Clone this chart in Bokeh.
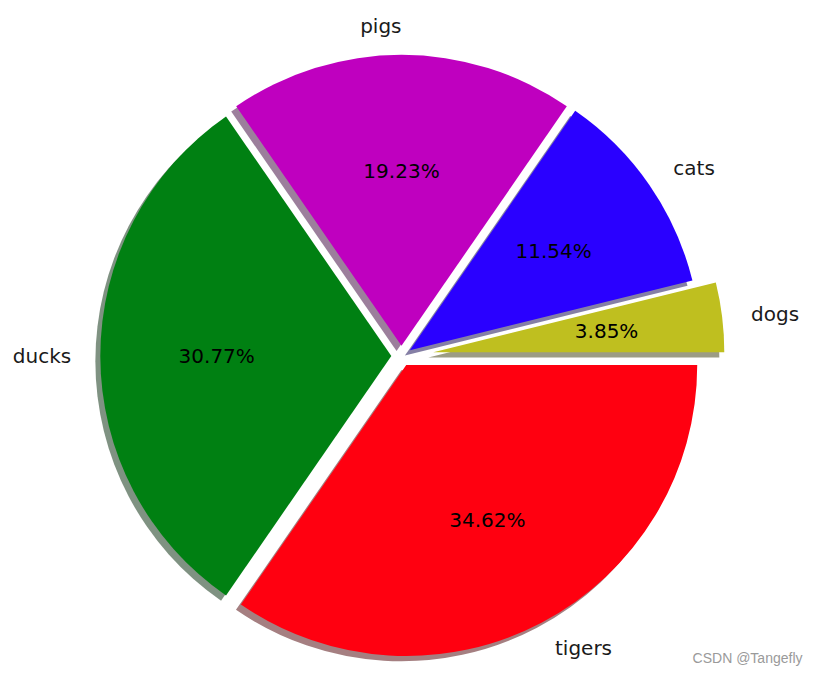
import math
from bokeh.plotting import figure
from bokeh.models import ColumnDataSource, Label, Range1d
from bokeh.core.properties import value
from bokeh.embed import file_html
from bokeh.resources import INLINE

# ---- data ----
labels = ["dogs", "cats", "pigs", "ducks", "tigers"]
values = [1, 3, 5, 8, 9]
explode = [0.11, 0.035, 0.035, 0.035, 0.035]
colors = ["#bfbf1f", "#2a00ff", "#bf00bf", "#008012", "#ff0010"]

# ---- geometry (unit radius pie) ----
total = float(sum(values))
R = 1.0
label_dist = 1.1
pct_dist = 0.6
shadow_dx, shadow_dy = -0.017, -0.018

starts, ends, cxs, cys = [], [], [], []
lab_x, lab_y, lab_align = [], [], []
pct_x, pct_y, pct_txt = [], [], []
sh_colors = []
acc = 0.0
for lab, v, ex, col in zip(labels, values, explode, colors):
    t1 = acc / total * 2 * math.pi
    acc += v
    t2 = acc / total * 2 * math.pi
    tm = 0.5 * (t1 + t2)
    cx = ex * math.cos(tm)
    cy = ex * math.sin(tm)
    starts.append(t1)
    ends.append(t2)
    cxs.append(cx)
    cys.append(cy)
    xt = cx + label_dist * R * math.cos(tm)
    yt = cy + label_dist * R * math.sin(tm)
    lab_x.append(xt)
    lab_y.append(yt)
    lab_align.append("left" if xt > 0.01 else "right")
    pct_x.append(cx + pct_dist * R * math.cos(tm))
    pct_y.append(cy + pct_dist * R * math.sin(tm))
    pct_txt.append(f"{v / total * 100:.2f}%")
    h = col.lstrip("#")
    r_, g_, b_ = (int(h[i:i + 2], 16) for i in (0, 2, 4))
    sh_colors.append("#%02x%02x%02x" % (int(r_ * 0.3), int(g_ * 0.3), int(b_ * 0.3)))

W, H = 817, 673
scale = 291.0
x0 = -401.0 / scale
x1 = x0 + W / scale
y1 = 355.5 / scale
y0 = y1 - H / scale

p = figure(width=W, height=H, output_backend="svg", toolbar_location=None,
           x_range=Range1d(x0, x1), y_range=Range1d(y0, y1), min_border=0)
p.axis.visible = False
p.grid.visible = False
p.outline_line_color = None
p.background_fill_color = "white"
p.border_fill_color = "white"

src = ColumnDataSource(dict(
    x=cxs, y=cys, sx=[c + shadow_dx for c in cxs], sy=[c + shadow_dy for c in cys],
    start=starts, end=ends, color=colors, shcolor=sh_colors,
))

p.wedge(x="sx", y="sy", radius=R, start_angle="start", end_angle="end",
        fill_color="shcolor", fill_alpha=0.5, line_color=None, source=src)
p.wedge(x="x", y="y", radius=R, start_angle="start", end_angle="end",
        fill_color="color", line_color=None, source=src)

lsrc = ColumnDataSource(dict(x=lab_x, y=lab_y, text=labels, align=lab_align))
p.text(x="x", y="y", text="text", text_align="align", text_baseline="middle",
       text_font=value("DejaVu Sans"), text_font_size="20px", text_color="#1a1a1a",
       source=lsrc)

psrc = ColumnDataSource(dict(x=pct_x, y=pct_y, text=pct_txt))
p.text(x="x", y="y", text="text", text_align="center", text_baseline="middle",
       text_font=value("DejaVu Sans"), text_font_size="20px", text_color="black",
       source=psrc)

p.add_layout(Label(x=802, y=16, x_units="screen", y_units="screen", text="CSDN @Tangefly",
                   text_align="right", text_baseline="middle", text_font="Liberation Sans",
                   text_font_size="14px", text_color="#9a9a9a"))

open("out.html", "w").write(file_html(p, INLINE))
